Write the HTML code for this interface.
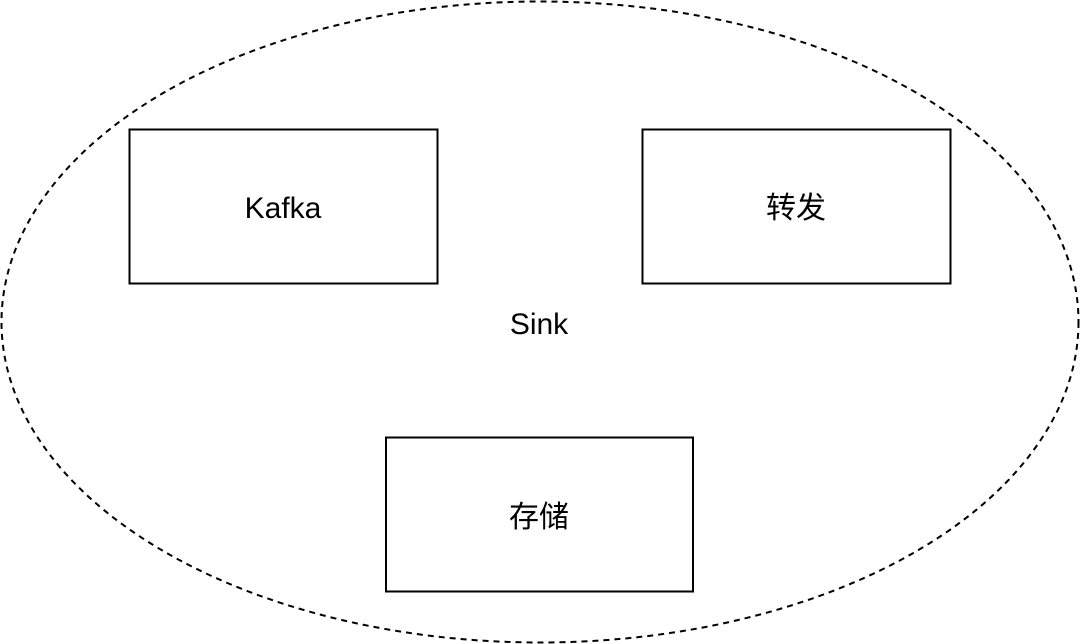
<!DOCTYPE html>
<html><head><meta charset="utf-8"><style>
html,body{margin:0;padding:0;background:#fff;}
svg{display:block}
text{font-family:"Liberation Sans","Noto Sans CJK SC",sans-serif;font-size:30px;fill:#000;}
</style></head><body>
<svg width="1080" height="644" viewBox="0 0 1080 644">
<ellipse cx="540" cy="322" rx="538.5" ry="320.5" fill="#fff" stroke="#000" stroke-width="2" stroke-dasharray="6,5"/>
<rect x="129.5" y="129.5" width="308" height="154" fill="#fff" stroke="#000" stroke-width="2"/>
<rect x="642.5" y="129.5" width="308" height="154" fill="#fff" stroke="#000" stroke-width="2"/>
<rect x="386" y="437.5" width="307" height="154" fill="#fff" stroke="#000" stroke-width="2"/>
<text x="283" y="218" text-anchor="middle">Kafka</text>
<text x="796" y="218" text-anchor="middle">转发</text>
<text x="539" y="334" text-anchor="middle">Sink</text>
<text x="539" y="527" text-anchor="middle">存储</text>
</svg>
</body></html>
